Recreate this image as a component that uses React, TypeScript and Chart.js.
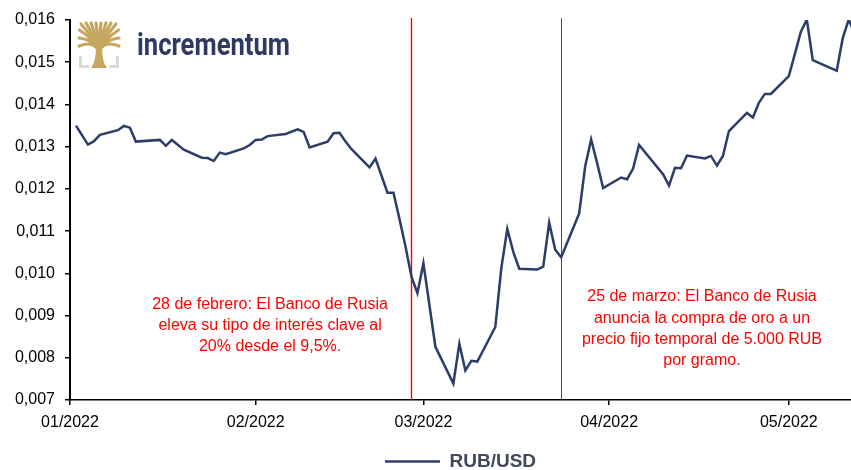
import React, { useEffect, useRef } from 'react';
import { Chart, registerables } from 'chart.js';

Chart.register(...registerables);

// ---- data (x = days since 01/01/2022) ----
const dayOffsets = [
  1, 3, 4, 5, 8, 9, 10, 11, 15, 16, 17, 19, 22, 23, 24, 25, 26, 29, 30, 31, 32, 33, 36, 38, 39, 40,
  43, 44, 45, 46, 47, 50, 51, 53, 54, 55, 56, 57, 58, 59, 61, 64, 65, 66, 67, 68, 71, 72, 73, 74, 75,
  78, 79, 80, 81, 82, 85, 86, 87, 88, 89, 92, 93, 94, 95, 99, 100, 101, 102, 103, 106, 107, 108, 109,
  110, 113, 114, 115, 116, 117, 120, 121, 122, 123, 124, 127, 128, 129, 130, 131,
];
const rubUsd = [
  0.0135, 0.01305, 0.01313, 0.01328, 0.01339, 0.01349, 0.01345, 0.01312, 0.01316, 0.01302, 0.01316,
  0.01293, 0.01274, 0.01273, 0.01266, 0.01286, 0.01282, 0.01296, 0.01304, 0.01316, 0.01317, 0.01325,
  0.0133, 0.01341, 0.01335, 0.01298, 0.01312, 0.01332, 0.01333, 0.01312, 0.01294, 0.01251, 0.01272,
  0.01191, 0.01191, 0.01129, 0.01064, 0.00992, 0.00953, 0.01024, 0.00826, 0.00739, 0.00833, 0.0077,
  0.00793, 0.00791, 0.00873, 0.01012, 0.01105, 0.01051, 0.01011, 0.01009, 0.01016, 0.0112, 0.01056,
  0.01038, 0.01142, 0.01253, 0.01317, 0.01261, 0.01202, 0.01227, 0.01223, 0.01248, 0.01304, 0.01235,
  0.01208, 0.0125, 0.01249, 0.01279, 0.01272, 0.01278, 0.01255, 0.01278, 0.01337, 0.0138, 0.01369,
  0.01404, 0.01425, 0.01425, 0.01467, 0.01519, 0.01572, 0.01601, 0.01505, 0.01486, 0.0148, 0.01557,
  0.01601, 0.01567,
];
const seriesLabel = 'RUB/USD';

const monthStartDays = [0, 31, 59, 90, 120];
const monthLabels = ['01/2022', '02/2022', '03/2022', '04/2022', '05/2022'];
const yTickValues = [0.007, 0.008, 0.009, 0.01, 0.011, 0.012, 0.013, 0.014, 0.015, 0.016];

const eventDays = [56.9, 82.05];
const eventNotes = [
  ['28 de febrero: El Banco de Rusia', 'eleva su tipo de interés clave al', '20% desde el 9,5%.'],
  ['25 de marzo: El Banco de Rusia', 'anuncia la compra de oro a un', 'precio fijo temporal de 5.000 RUB', 'por gramo.'],
];
const noteAnchors = [
  { day: 33.4, value: 0.00927 },
  { day: 105.5, value: 0.00944 },
];

const FONT = '"Liberation Sans", Arial, sans-serif';
const LINE_COLOR = '#2c3d6a';

function drawLogo(ctx: CanvasRenderingContext2D) {
  ctx.save();
  const gold = '#c7a660';
  ctx.strokeStyle = '#d9d9d9';
  ctx.lineWidth = 3;
  ctx.lineCap = 'butt';
  ctx.beginPath();
  ctx.moveTo(80.5, 56);
  ctx.lineTo(80.5, 66.5);
  ctx.lineTo(89, 66.5);
  ctx.stroke();
  ctx.beginPath();
  ctx.moveTo(117.5, 56);
  ctx.lineTo(117.5, 66.5);
  ctx.lineTo(109, 66.5);
  ctx.stroke();

  ctx.fillStyle = gold;
  ctx.beginPath();
  ctx.moveTo(91, 68);
  ctx.quadraticCurveTo(96, 62, 96, 47);
  ctx.lineTo(102, 47);
  ctx.quadraticCurveTo(102, 62, 107, 68);
  ctx.closePath();
  ctx.fill();

  ctx.strokeStyle = gold;
  ctx.lineWidth = 3.2;
  ctx.lineCap = 'round';
  const tips = [
    [79, 46], [79, 38], [79.5, 30], [81, 24], [86, 23], [91, 23], [96, 23], [101, 23], [106, 23],
    [111, 23], [116, 24], [118.5, 30], [119, 38], [119, 46],
  ];
  tips.forEach(([tx, ty]) => {
    ctx.beginPath();
    ctx.moveTo(99, 52);
    ctx.quadraticCurveTo(99 + (tx - 99) * 0.2, 40, tx, ty);
    ctx.stroke();
  });

  ctx.font = 'bold 31px Roboto, "Liberation Sans", sans-serif';
  const w = ctx.measureText('incrementum').width;
  ctx.translate(137, 55);
  ctx.scale(153 / w, 1);
  ctx.fillStyle = '#2e3a63';
  ctx.textBaseline = 'alphabetic';
  ctx.textAlign = 'left';
  ctx.fillText('incrementum', 0, 0);
  ctx.restore();
}

const eventPlugin = {
  id: 'events',
  beforeDatasetsDraw(chart: any) {
    const { ctx, chartArea, scales } = chart;
    ctx.save();
    ctx.globalAlpha = 1;
    ctx.setLineDash([]);
    ctx.strokeStyle = 'rgb(255,0,0)';
    eventDays.forEach((d, i) => {
      ctx.lineWidth = i === 0 ? 1.4 : 1;
      const x = Math.round(scales.x.getPixelForValue(d)) + 0.5;
      ctx.beginPath();
      ctx.moveTo(x, chartArea.top - 2);
      ctx.lineTo(x, chartArea.bottom);
      ctx.stroke();
    });
    ctx.restore();
  },
  afterDraw(chart: any) {
    const { ctx, scales } = chart;
    ctx.save();
    ctx.fillStyle = '#ff0000';
    ctx.font = `16px ${FONT}`;
    ctx.textAlign = 'center';
    ctx.textBaseline = 'middle';
    eventNotes.forEach((lines, i) => {
      const x = scales.x.getPixelForValue(noteAnchors[i].day);
      const y0 = scales.y.getPixelForValue(noteAnchors[i].value);
      lines.forEach((t, j) => ctx.fillText(t, x, y0 + j * 21.3));
    });
    ctx.restore();
    drawLogo(ctx);
  },
};

export default function App() {
  const ref = useRef<HTMLCanvasElement>(null);
  useEffect(() => {
    if (!ref.current) return;
    const chart = new Chart(ref.current, {
      type: 'line',
      data: {
        datasets: [
          {
            label: seriesLabel,
            data: dayOffsets.map((d, i) => ({ x: d, y: rubUsd[i] })),
            borderColor: LINE_COLOR,
            backgroundColor: LINE_COLOR,
            borderWidth: 2.5,
            pointRadius: 0,
            pointStyle: 'line',
            tension: 0,
            fill: false,
          },
        ],
      },
      options: {
        responsive: false,
        animation: false,
        layout: { padding: { top: 20, right: 0, left: 0, bottom: -11 } },
        scales: {
          x: {
            type: 'linear',
            min: 0,
            max: 130.38,
            afterBuildTicks: (s: any) => {
              s.ticks = monthStartDays.map((v) => ({ value: v }));
            },
            afterFit: (s: any) => {
              s.height = 42;
            },
            ticks: {
              autoSkip: false,
              maxRotation: 0,
              padding: 8,
              color: '#000',
              font: { family: FONT, size: 16 },
              callback: (v: any) => {
                const i = monthStartDays.indexOf(Number(v));
                return i >= 0 ? monthLabels[i] : '';
              },
            },
            grid: { drawOnChartArea: false, drawTicks: true, tickLength: 5, color: '#000', lineWidth: 1.5 },
            border: { display: true, color: '#000', width: 1.5 },
          },
          y: {
            min: 0.007,
            max: 0.016,
            afterBuildTicks: (s: any) => {
              s.ticks = yTickValues.map((v) => ({ value: v }));
            },
            afterFit: (s: any) => {
              s.width = 70;
            },
            ticks: {
              padding: 10,
              color: '#000',
              font: { family: FONT, size: 16 },
              callback: (v: any) => Number(v).toFixed(3).replace('.', ','),
            },
            grid: { drawOnChartArea: false, drawTicks: true, tickLength: 5, color: '#000', lineWidth: 1.5 },
            border: { display: true, color: '#000', width: 2 },
          },
        },
        plugins: {
          legend: {
            position: 'bottom',
            fullSize: false,
            labels: {
              usePointStyle: true,
              pointStyleWidth: 55,
              color: '#404a5c',
              font: { family: FONT, size: 19, weight: 'bold' },
            },
          },
          tooltip: { enabled: false },
        },
      },
      plugins: [eventPlugin],
    } as any);
    return () => chart.destroy();
  }, []);
  return (
    <div style={{ position: 'fixed', left: 0, top: 0, width: 851, height: 470, background: '#fff' }}>
      <canvas ref={ref} width={851} height={470} style={{ display: 'block' }} />
    </div>
  );
}
